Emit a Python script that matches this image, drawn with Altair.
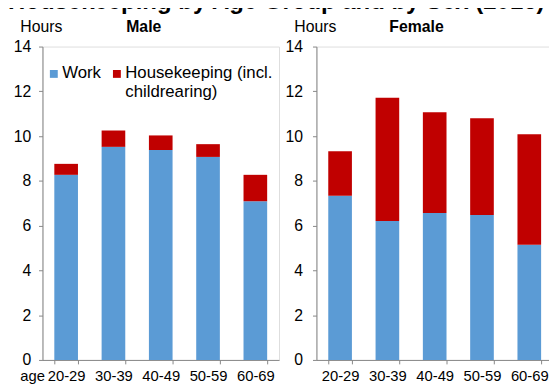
import altair as alt
import pandas as pd

# ---- data ----
ages = ["20-29", "30-39", "40-49", "50-59", "60-69"]
activities = ["Work", "Housekeeping (incl. childrearing)"]
sexes = ["Male", "Female"]
male_work = [8.27, 9.52, 9.38, 9.07, 7.09]
male_house = [0.49, 0.73, 0.65, 0.57, 1.18]
female_work = [7.34, 6.21, 6.56, 6.47, 5.15]
female_house = [1.98, 5.50, 4.51, 4.33, 4.93]
y_ticks = [0, 2, 4, 6, 8, 10, 12, 14]
main_title = "Housekeeping by Age Group and by Sex (2016)"

colors = ["#5B9BD5", "#C00000"]
FONT = "Liberation Sans"
GRAY = "#868686"
INK = "#000000"


def make_df(work, house):
    rows = []
    for a, w, h in zip(ages, work, house):
        rows.append({"age": a, "activity": activities[0], "hours": w, "stack": 0})
        rows.append({"age": a, "activity": activities[1], "hours": h, "stack": 1})
    return pd.DataFrame(rows)


def panel(df, sex, sex_x, first, label_pad):
    x_kwargs = dict(
        labelAngle=0, labelFontSize=15, labelFont=FONT, labelColor=INK,
        labelBaseline="alphabetic", labelPadding=17, tickSize=4,
        tickBand="extent", domainColor=GRAY, tickColor=GRAY,
    )
    if first:
        x_kwargs.update(title="age", titleX=-23, titleY=21, titleAlign="left",
                        titleBaseline="alphabetic", titleFontWeight="normal",
                        titleFontSize=15, titleFont=FONT, titleColor=INK)
    else:
        x_kwargs.update(title="")
    y_axis = alt.Axis(
        values=y_ticks, title="Hours", titleAngle=0, titleX=-23, titleY=-15,
        titleAlign="left", titleBaseline="alphabetic", titleFontWeight="normal",
        titleFontSize=16, titleFont=FONT, titleColor=INK,
        labelFontSize=16, labelFont=FONT, labelColor=INK, labelPadding=label_pad,
        tickSize=4, tickColor=GRAY, domainColor=GRAY, grid=False,
    )
    color_kwargs = dict(scale=alt.Scale(domain=activities, range=colors))
    if first:
        color_kwargs["legend"] = alt.Legend(
            title=None, orient="none", legendX=3, legendY=23,
            direction="horizontal", symbolType="M-1,-2H1V0H-1Z", symbolSize=64,
            symbolStrokeWidth=0, labelFontSize=17, labelFont=FONT, labelColor=INK,
            labelBaseline="alphabetic", labelOffset=0, columnPadding=7,
            labelLimit=300, padding=0,
            labelExpr="length(datum.label) > 10 ? [substring(datum.label, 0, 19), substring(datum.label, 20)] : [datum.label, '']",
        )
    else:
        color_kwargs["legend"] = None

    bars = alt.Chart(df).mark_bar().encode(
        x=alt.X("age:N", sort=ages,
                scale=alt.Scale(domain=ages, paddingInner=0.5, paddingOuter=0.25),
                axis=alt.Axis(**x_kwargs)),
        y=alt.Y("hours:Q", stack="zero", scale=alt.Scale(domain=[0, 14], nice=False),
                axis=y_axis),
        color=alt.Color("activity:N", **color_kwargs),
        order=alt.Order("stack:Q", sort="ascending"),
    )
    label = alt.Chart(pd.DataFrame({"sex": [sex]})).mark_text(
        align="left", baseline="alphabetic", fontSize=16, fontWeight="bold",
        font=FONT, color=INK,
    ).encode(text="sex:N", x=alt.value(sex_x), y=alt.value(-15))
    return alt.layer(bars, label).properties(width=240, height=318)


left = panel(make_df(male_work, male_house), sexes[0], 85, True, 8)
right = panel(make_df(female_work, female_house), sexes[1], 74, False, 10)

chart = alt.hconcat(left, right, spacing=38, bounds="flush").resolve_legend(
    color="independent"
).properties(
    title=alt.TitleParams(main_title, anchor="start", frame="group", dx=-35,
                          fontSize=24.3, fontWeight="bold",
                          font=FONT, color=INK, offset=4),
    autosize=alt.AutoSizeParams(type="none"),
    padding={"left": 35, "top": 34, "right": 514, "bottom": 343},
).configure_view(stroke="transparent").configure(font=FONT)

chart.save("out.html", embed_options={"renderer": "svg", "actions": False})
